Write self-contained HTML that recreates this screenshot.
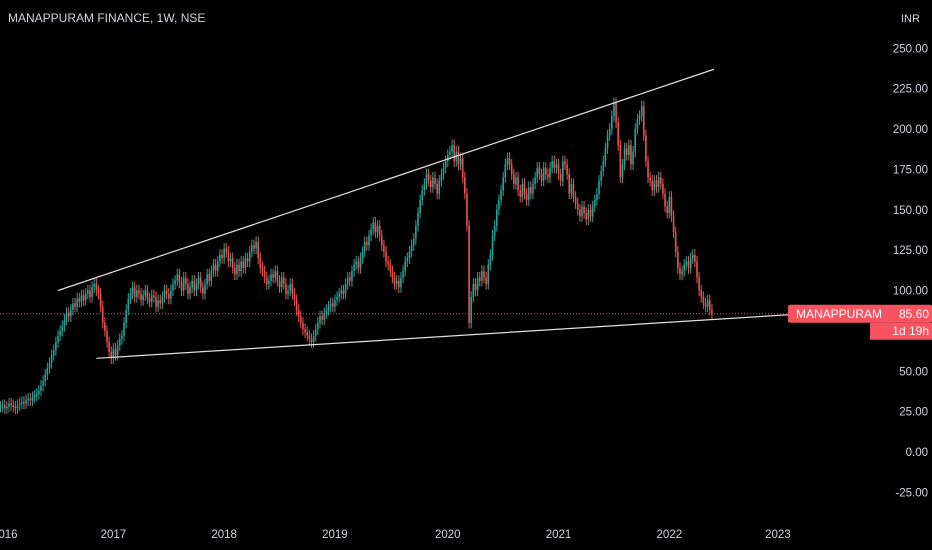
<!DOCTYPE html>
<html><head><meta charset="utf-8"><style>
html,body{margin:0;padding:0;background:#000;}
svg{display:block;font-family:"Liberation Sans",sans-serif;}
</style></head><body>
<svg id="chart" width="932" height="550" viewBox="0 0 932 550" xmlns="http://www.w3.org/2000/svg">
<rect width="932" height="550" fill="#000"/>
<text x="8" y="22" fill="#d1d4dc" font-size="12">MANAPPURAM FINANCE, 1W, NSE</text>
<text x="901" y="22" fill="#d1d4dc" font-size="11">INR</text>
<g id="yaxis"></g>
<g id="xaxis"></g>
<g id="candles"></g>
<g id="overlay"></g>
</svg>
<script>
const closes = [
28,29,27,28,30,29,28,27,29,30,
31,30,32,33,32,34,35,36,38,41,
44,48,52,55,60,63,68,72,75,78,
82,86,84,88,92,90,95,93,97,94,
98,100,96,102,104,100,98,90,80,75,
68,62,58,64,60,66,70,72,80,88,
95,98,102,96,100,98,94,97,100,95,
93,97,96,90,94,92,96,100,98,95,
100,104,106,110,105,100,108,104,98,102,
106,100,104,108,102,98,104,110,106,112,
116,112,118,122,120,126,124,118,120,114,
110,116,112,118,114,120,118,124,128,126,
130,120,114,112,108,104,106,110,108,112,
106,102,108,104,98,100,104,98,94,88,
84,80,76,74,72,70,68,72,76,80,
84,82,86,88,90,92,90,94,96,98,
100,98,104,108,106,112,116,118,114,120,
124,130,128,134,138,142,136,140,134,128,
124,118,116,112,108,104,106,102,108,112,
118,120,124,128,132,140,148,156,162,166,
172,168,164,170,166,160,168,172,176,180,
184,186,190,180,186,178,182,170,160,140,
80,96,104,100,108,106,112,108,104,116,
122,134,140,150,156,162,170,178,182,178,
172,166,170,162,158,166,160,156,164,160,
166,170,176,172,168,176,172,170,176,180,
176,178,172,168,180,178,172,160,166,158,
154,150,146,152,148,144,150,146,152,156,
160,168,174,180,188,196,200,208,216,204,
190,170,178,188,184,190,178,186,200,206,
208,214,196,180,170,168,162,168,164,170,
166,160,152,148,158,146,136,124,114,110,
112,116,118,114,120,122,118,108,100,96,
92,90,94,88,85.6];
const yTicks = [250,225,200,175,150,125,100,75,50,25,0,-25];
const yearLabels = ["2016","2017","2018","2019","2020","2021","2022","2023"];
const yearWeeks = [2,53,105,157,210,262,314,365];
const upperLine = [[27,100],[335,237]];
const lowerLine = [[45,58],[370,85]];
const lastPrice = 85.6;

const NS="http://www.w3.org/2000/svg";
const y = v => 452 - v*1.615;
const x = w => 0.5 + w*2.13;
function mk(tag, attrs, parent){const e=document.createElementNS(NS,tag);for(const k in attrs)e.setAttribute(k,attrs[k]);parent.appendChild(e);return e;}
const ya=document.getElementById('yaxis'), xa=document.getElementById('xaxis'), cg=document.getElementById('candles'), ov=document.getElementById('overlay');
yTicks.forEach(t=>{const e=mk('text',{x:928,y:y(t)+4,fill:'#d1d4dc','font-size':11.5,'text-anchor':'end'},ya);e.textContent=t.toFixed(2);

});
yearLabels.forEach((l,i)=>{const e=mk('text',{x:x(yearWeeks[i]),y:538,fill:'#d1d4dc','font-size':11.5,'text-anchor':'middle'},xa);e.textContent=l;

});
closes.forEach((c,i)=>{const o=i?closes[i-1]:c;const up=c>=o;const col=up?'#26a69a':'#ef5350';
const hi=Math.max(o,c)+3.5, lo=Math.min(o,c)-3.5;const cx=x(i);
const g=mk('g',{},cg);


mk('line',{x1:cx,x2:cx,y1:y(hi),y2:y(lo),stroke:col,'stroke-width':1},g);
const top=y(Math.max(o,c)),h=Math.max(1,y(Math.min(o,c))-top);
mk('rect',{x:cx-0.8,y:top,width:1.6,height:h,fill:col},g);});
function tl(p,name){const l=mk('line',{x1:x(p[0][0]),y1:y(p[0][1]),x2:x(p[1][0]),y2:y(p[1][1]),stroke:'#e0e0e0','stroke-width':1.2},ov);

}
tl(upperLine,'upper-trendline');tl(lowerLine,'lower-trendline');
const pl=mk('line',{x1:0,x2:788,y1:y(lastPrice),y2:y(lastPrice),stroke:'#ef5350','stroke-width':1,'stroke-dasharray':'1,2'},ov);


const lb=mk('g',{},ov);


const yy=y(lastPrice);
mk('rect',{x:788,y:yy-9,width:144,height:18,fill:'#f7525f',rx:2},lb);
mk('rect',{x:870,y:yy+9,width:62,height:17,fill:'#f7525f'},lb);
let t=mk('text',{x:796,y:yy+4,fill:'#fff','font-size':12},lb);t.textContent='MANAPPURAM';
t=mk('text',{x:929,y:yy+4,fill:'#fff','font-size':12,'text-anchor':'end'},lb);t.textContent=lastPrice.toFixed(2);
t=mk('text',{x:929,y:yy+21,fill:'#fff','font-size':12,'text-anchor':'end'},lb);t.textContent='1d 19h';
</script>
</body></html>
